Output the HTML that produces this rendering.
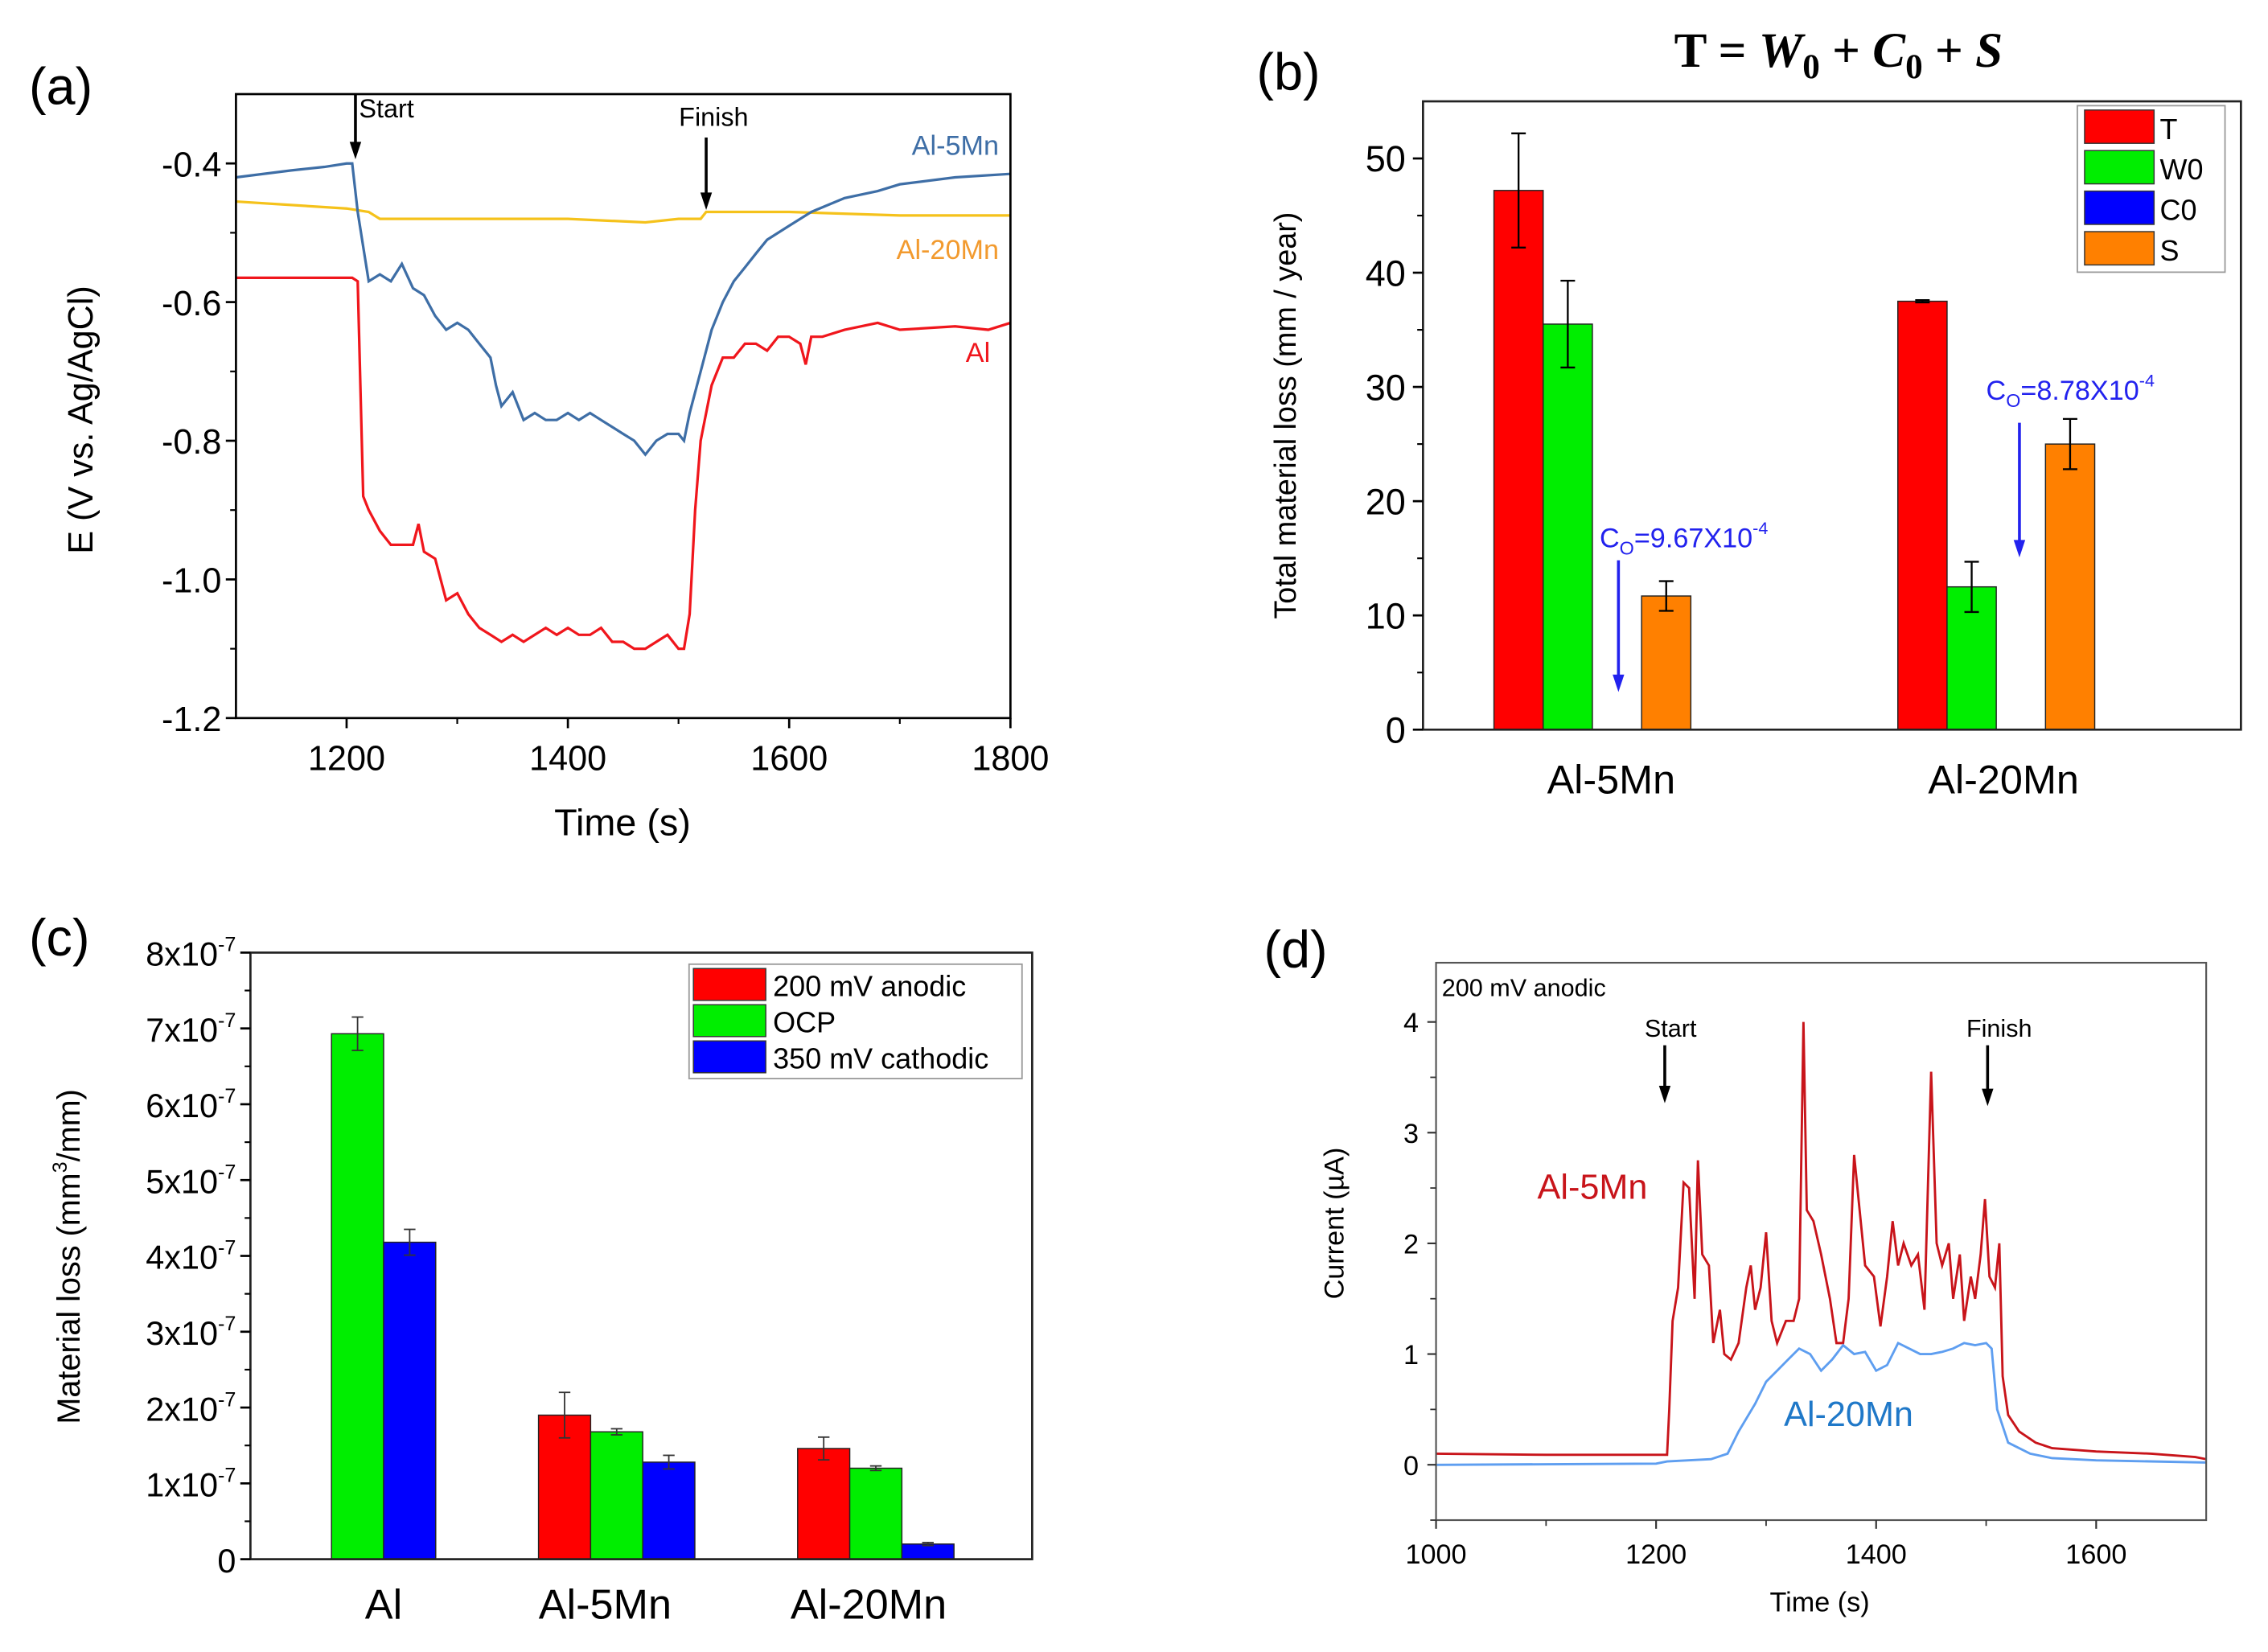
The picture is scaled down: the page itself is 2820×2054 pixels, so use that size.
<!DOCTYPE html>
<html><head><meta charset="utf-8">
<style>
html,body{margin:0;padding:0;background:#fff;}
svg{display:block;}
text{font-family:"Liberation Sans",sans-serif;}
</style></head>
<body>
<svg id="fig" width="2820" height="2054" viewBox="0 0 1566.7 1141.1" preserveAspectRatio="none" xmlns="http://www.w3.org/2000/svg"></svg>
<script>
// ---- Panel (a) data ----
const aAlT = [1100,1205,1210,1215,1220,1230,1240,1250,1260,1265,1270,1280,1290,1300,1310,1320,1330,1340,1350,1360,1370,1380,1390,1400,1410,1420,1430,1440,1450,1460,1470,1480,1490,1500,1505,1510,1515,1520,1530,1540,1550,1560,1570,1580,1590,1600,1610,1615,1620,1630,1650,1680,1700,1750,1780,1800];
const aAlV = [-0.565,-0.565,-0.57,-0.88,-0.90,-0.93,-0.95,-0.95,-0.95,-0.92,-0.96,-0.97,-1.03,-1.02,-1.05,-1.07,-1.08,-1.09,-1.08,-1.09,-1.08,-1.07,-1.08,-1.07,-1.08,-1.08,-1.07,-1.09,-1.09,-1.10,-1.10,-1.09,-1.08,-1.10,-1.10,-1.05,-0.90,-0.80,-0.72,-0.68,-0.68,-0.66,-0.66,-0.67,-0.65,-0.65,-0.66,-0.69,-0.65,-0.65,-0.64,-0.63,-0.64,-0.635,-0.64,-0.63];
const a5T = [1100,1150,1180,1200,1205,1210,1215,1220,1230,1240,1250,1260,1270,1280,1290,1300,1310,1320,1330,1335,1340,1350,1360,1370,1380,1390,1400,1410,1420,1430,1440,1450,1460,1470,1480,1490,1500,1505,1510,1520,1530,1540,1550,1560,1570,1580,1600,1620,1650,1680,1700,1750,1800];
const a5V = [-0.42,-0.41,-0.405,-0.40,-0.40,-0.47,-0.52,-0.57,-0.56,-0.57,-0.545,-0.58,-0.59,-0.62,-0.64,-0.63,-0.64,-0.66,-0.68,-0.72,-0.75,-0.73,-0.77,-0.76,-0.77,-0.77,-0.76,-0.77,-0.76,-0.77,-0.78,-0.79,-0.80,-0.82,-0.80,-0.79,-0.79,-0.80,-0.76,-0.70,-0.64,-0.60,-0.57,-0.55,-0.53,-0.51,-0.49,-0.47,-0.45,-0.44,-0.43,-0.42,-0.415];
const a20T = [1100,1200,1220,1230,1300,1400,1470,1500,1520,1525,1600,1700,1800];
const a20V = [-0.455,-0.465,-0.47,-0.48,-0.48,-0.48,-0.485,-0.48,-0.48,-0.47,-0.47,-0.475,-0.475];
const aXTicks = [1200,1400,1600,1800];
const aYTicks = [-0.4,-0.6,-0.8,-1.0,-1.2];
const aYLabels = ["-0.4","-0.6","-0.8","-1.0","-1.2"];

// ---- Panel (b) data ----
const bCats = ["Al-5Mn","Al-20Mn"];
const bSeries = ["T","W0","C0","S"];
const bT = [47.2,37.5];
const bW0 = [35.5,12.5];
const bC0 = [0,0];
const bS = [11.7,25.0];
const bTErr = [5.0,0.1];
const bW0Err = [3.8,2.2];
const bC0Err = [0,0];
const bSErr = [1.3,2.2];
const bYTicks = [0,10,20,30,40,50];

// ---- Panel (c) data ----
const cCats = ["Al","Al-5Mn","Al-20Mn"];
const cSeries = ["200 mV anodic","OCP","350 mV cathodic"];
const cAnodic = [0,1.90,1.46];
const cOCP = [6.93,1.68,1.20];
const cCath = [4.18,1.28,0.20];
const cAnodicErr = [0,0.30,0.15];
const cOCPErr = [0.22,0.04,0.03];
const cCathErr = [0.17,0.09,0.02];
const cYTicks = [0,1,2,3,4,5,6,7,8];

// ---- Panel (d) data ----
const d5T = [1000,1100,1210,1212,1215,1220,1225,1230,1235,1238,1242,1248,1252,1258,1262,1268,1275,1282,1286,1290,1295,1300,1305,1310,1318,1325,1330,1334,1337,1343,1350,1358,1364,1370,1375,1380,1385,1390,1398,1404,1410,1415,1420,1425,1432,1438,1444,1450,1455,1460,1466,1470,1476,1480,1486,1490,1495,1499,1503,1508,1512,1515,1520,1530,1545,1560,1600,1650,1690,1700];
const d5V = [0.1,0.09,0.09,0.5,1.3,1.6,2.55,2.5,1.5,2.75,1.9,1.8,1.1,1.4,1.0,0.95,1.1,1.6,1.8,1.4,1.6,2.1,1.3,1.1,1.3,1.3,1.5,4.0,2.3,2.2,1.9,1.5,1.1,1.1,1.5,2.8,2.3,1.8,1.7,1.25,1.7,2.2,1.8,2.0,1.8,1.9,1.4,3.55,2.0,1.8,2.0,1.5,1.9,1.3,1.7,1.5,1.9,2.4,1.7,1.6,2.0,0.8,0.45,0.3,0.2,0.15,0.12,0.1,0.07,0.05];
const d20T = [1000,1200,1210,1250,1265,1275,1290,1300,1310,1320,1330,1340,1350,1360,1370,1380,1390,1400,1410,1420,1430,1440,1450,1460,1470,1480,1490,1500,1505,1510,1520,1540,1560,1600,1700];
const d20V = [0.0,0.01,0.03,0.05,0.1,0.3,0.55,0.75,0.85,0.95,1.05,1.0,0.85,0.95,1.08,1.0,1.02,0.85,0.9,1.1,1.05,1.0,1.0,1.02,1.05,1.1,1.08,1.1,1.05,0.5,0.2,0.1,0.06,0.04,0.02];
const dXTicks = [1000,1200,1400,1600];
const dYTicks = [0,1,2,3,4];

const NS="http://www.w3.org/2000/svg";
const svg=document.getElementById('fig');
function el(tag,attrs,parent,txt){const e=document.createElementNS(NS,tag);for(const k in attrs)e.setAttribute(k,attrs[k]);if(txt!==undefined)e.textContent=txt;(parent||svg).appendChild(e);return e;}
function lin(d0,d1,r0,r1){return v=>r0+(v-d0)*(r1-r0)/(d1-d0);}
function arrow(g,x,y1,y2,color,w){
  el('line',{x1:x,y1:y1,x2:x,y2:y2-8,stroke:color,'stroke-width':w},g);
  el('polygon',{points:`${x-4},${y2-12} ${x+4},${y2-12} ${x},${y2}`,fill:color},g);
}

// ===== Panel (a) =====
(function(){
 const g=el('g',{});
 
 
 const L=163,R=698,T=65,B=496;
 const x=lin(1100,1800,L,R), y=lin(-1.2,-0.3,B,T);
 const lab=el('text',{x:20,y:72,'font-size':36},g,'(a)');
 
 function line(ts,vs,c,name){const p=el('polyline',{points:ts.map((t,i)=>x(t).toFixed(1)+','+y(vs[i]).toFixed(1)).join(' '),fill:'none',stroke:c,'stroke-width':1.8},g);
  }
 line(a20T,a20V,'#f5c21b','line-al-20mn');
 line(a5T,a5V,'#3e6ea6','line-al-5mn');
 line(aAlT,aAlV,'#f0161c','line-al');
 const fr=el('rect',{x:L,y:T,width:R-L,height:B-T,fill:'none',stroke:'#000','stroke-width':1.5},g);
 
 aXTicks.forEach(t=>{el('line',{x1:x(t),x2:x(t),y1:B,y2:B+7,stroke:'#000','stroke-width':1.5},g);
  const tx=el('text',{x:x(t),y:B+36,'font-size':24,'text-anchor':'middle'},g,t);
  });
 [1300,1500,1700].forEach(t=>el('line',{x1:x(t),x2:x(t),y1:B,y2:B+4,stroke:'#000','stroke-width':1.2},g));
 aYTicks.forEach((t,i)=>{el('line',{x1:L-7,x2:L,y1:y(t),y2:y(t),stroke:'#000','stroke-width':1.5},g);
  const tx=el('text',{x:L-10,y:y(t)+9,'font-size':24,'text-anchor':'end'},g,aYLabels[i]);
  });
 [-0.5,-0.7,-0.9,-1.1].forEach(t=>el('line',{x1:L-4,x2:L,y1:y(t),y2:y(t),stroke:'#000','stroke-width':1.2},g));
 const xt=el('text',{x:430,y:577,'font-size':26,'text-anchor':'middle'},g,'Time (s)');
 
 const yt=el('text',{x:0,y:0,'font-size':24,'text-anchor':'middle',transform:'translate(64,290) rotate(-90)'},g,'E (V vs. Ag/AgCl)');
 
 const s=el('text',{x:248,y:81,'font-size':18},g,'Start');
 arrow(g,x(1208),T,110,'#000',2);
 const f=el('text',{x:469,y:87,'font-size':18},g,'Finish');
 arrow(g,x(1525),95,145,'#000',2);
 const l1=el('text',{x:690,y:107,'font-size':19,'text-anchor':'end',fill:'#3e6ea6'},g,'Al-5Mn');
 const l2=el('text',{x:690,y:179,'font-size':19,'text-anchor':'end',fill:'#f29a2e'},g,'Al-20Mn');
 const l3=el('text',{x:684,y:250,'font-size':19,'text-anchor':'end',fill:'#f0161c'},g,'Al');
})();

// ===== Panel (b) =====
(function(){
 const g=el('g',{});
 
 
 const L=983,R=1548,T=70,B=504;
 const y=lin(0,55,B,T);
 const centers=[1100,1379], bw=34;
 const lab=el('text',{x:868,y:62,'font-size':36},g,'(b)');
 
 const tt=el('text',{x:1270,y:46,'font-size':34,'text-anchor':'middle',style:'font-family:"Liberation Serif",serif;font-weight:bold'},g);
 
 tt.innerHTML='T = <tspan font-style="italic">W</tspan><tspan font-size="24" dy="8">0</tspan><tspan dy="-8"> + </tspan><tspan font-style="italic">C</tspan><tspan font-size="24" dy="8">0</tspan><tspan dy="-8"> + </tspan><tspan font-style="italic">S</tspan>';
 const vals=[bT,bW0,bC0,bS], errs=[bTErr,bW0Err,bC0Err,bSErr], cols=['#ff0000','#00ee00','#0000ff','#ff8000'];
 vals.forEach((arr,si)=>arr.forEach((v,ci)=>{
  if(v<=0)return;
  const x0=centers[ci]+(si-2)*bw;
  const r=el('rect',{x:x0,y:y(v),width:bw,height:B-y(v),fill:cols[si],stroke:'#222','stroke-width':0.8},g);
  
  const e=errs[si][ci], cx=x0+bw/2;
  el('line',{x1:cx,x2:cx,y1:y(v+e),y2:y(v-e),stroke:'#000','stroke-width':1.3},g);
  el('line',{x1:cx-5,x2:cx+5,y1:y(v+e),y2:y(v+e),stroke:'#000','stroke-width':1.3},g);
  el('line',{x1:cx-5,x2:cx+5,y1:y(v-e),y2:y(v-e),stroke:'#000','stroke-width':1.3},g);
 }));
 const fr=el('rect',{x:L,y:T,width:R-L,height:B-T,fill:'none',stroke:'#222','stroke-width':1.5},g);
 
 bYTicks.forEach(t=>{el('line',{x1:L-7,x2:L,y1:y(t),y2:y(t),stroke:'#000','stroke-width':1.5},g);
  const tx=el('text',{x:L-12,y:y(t)+9,'font-size':25,'text-anchor':'end'},g,t);
  });
 [5,15,25,35,45].forEach(t=>el('line',{x1:L-4,x2:L,y1:y(t),y2:y(t),stroke:'#000','stroke-width':1.2},g));
 bCats.forEach((c,i)=>{const tx=el('text',{x:centers[i]+[13,5][i],y:548,'font-size':28,'text-anchor':'middle'},g,c);
  });
 const yt=el('text',{x:0,y:0,'font-size':21,'text-anchor':'middle',transform:'translate(895,287) rotate(-90)'},g,'Total material loss (mm / year)');
 
 const lg=el('g',{},g);
 el('rect',{x:1435,y:73,width:102,height:115,fill:'#fff',stroke:'#999','stroke-width':1},lg);
 bSeries.forEach((s,i)=>{
  el('rect',{x:1440,y:76+i*28,width:48,height:23,fill:cols[i],stroke:'#333','stroke-width':0.8},lg);
  const tx=el('text',{x:1492,y:96+i*28,'font-size':20},lg,s);
  });
 const a1=el('text',{x:1105,y:378,'font-size':19,fill:'#2222ee'},g);
 a1.innerHTML='C<tspan font-size="13" dy="5">O</tspan><tspan dy="-5">=9.67X10</tspan><tspan font-size="12" dy="-9">-4</tspan>';
 arrow(g,1118,387,478,'#2222ee',2);
 const a2=el('text',{x:1372,y:276,'font-size':19,fill:'#2222ee'},g);
 a2.innerHTML='C<tspan font-size="13" dy="5">O</tspan><tspan dy="-5">=8.78X10</tspan><tspan font-size="12" dy="-9">-4</tspan>';
 arrow(g,1395,292,385,'#2222ee',2);
})();

// ===== Panel (c) =====
(function(){
 const g=el('g',{});
 
 
 const L=173,R=713,T=658,B=1077;
 const y=lin(0,8,B,T);
 const centers=[247,426,605], bw=36;
 const lab=el('text',{x:20,y:660,'font-size':36},g,'(c)');
 
 const vals=[cAnodic,cOCP,cCath], errs=[cAnodicErr,cOCPErr,cCathErr], cols=['#ff0000','#00ee00','#0000ff'];
 vals.forEach((arr,si)=>arr.forEach((v,ci)=>{
  if(v<=0)return;
  const x0=centers[ci]+(si-1.5)*bw;
  const r=el('rect',{x:x0,y:y(v),width:bw,height:B-y(v),fill:cols[si],stroke:'#222','stroke-width':0.8},g);
  
  const e=errs[si][ci], cx=x0+bw/2;
  el('line',{x1:cx,x2:cx,y1:y(v+e),y2:y(v-e),stroke:'#333','stroke-width':1},g);
  el('line',{x1:cx-4,x2:cx+4,y1:y(v+e),y2:y(v+e),stroke:'#333','stroke-width':1},g);
  el('line',{x1:cx-4,x2:cx+4,y1:y(v-e),y2:y(v-e),stroke:'#333','stroke-width':1},g);
 }));
 const fr=el('rect',{x:L,y:T,width:R-L,height:B-T,fill:'none',stroke:'#222','stroke-width':1.5},g);
 
 cYTicks.forEach(t=>{el('line',{x1:L-7,x2:L,y1:y(t),y2:y(t),stroke:'#000','stroke-width':1.5},g);
  if(t<7.9) el('line',{x1:L-4,x2:L,y1:y(t+0.5),y2:y(t+0.5),stroke:'#000','stroke-width':1.2},g);
  const tx=el('text',{x:L-10,y:y(t)+9,'font-size':23,'text-anchor':'end'},g);
  
  if(t===0) tx.textContent='0'; else tx.innerHTML=t+'x10<tspan font-size="14" dy="-10">-7</tspan>';
 });
 cCats.forEach((c,i)=>{const tx=el('text',{x:centers[i]+[18,-8,-5][i],y:1118,'font-size':29,'text-anchor':'middle'},g,c);
  });
 const yt=el('text',{x:0,y:0,'font-size':22,'text-anchor':'middle',transform:'translate(55,868) rotate(-90)'},g);
 
 yt.innerHTML='Material loss (mm<tspan font-size="14" dy="-9">3</tspan><tspan dy="9">/mm)</tspan>';
 const lg=el('g',{},g);
 el('rect',{x:476,y:666,width:230,height:79,fill:'#fff',stroke:'#999','stroke-width':1},lg);
 cSeries.forEach((s,i)=>{
  el('rect',{x:479,y:669+i*25,width:50,height:22,fill:cols[i],stroke:'#333','stroke-width':0.8},lg);
  const tx=el('text',{x:534,y:688+i*25,'font-size':20},lg,s);
  });
})();

// ===== Panel (d) =====
(function(){
 const g=el('g',{});
 
 
 const L=992,R=1524,T=665,B=1050;
 const x=lin(1000,1700,L,R), y=lin(-0.5,4.535,B,T);
 const lab=el('text',{x:873,y:668,'font-size':36},g,'(d)');
 
 function line(ts,vs,c,name){const p=el('polyline',{points:ts.map((t,i)=>x(t).toFixed(1)+','+y(vs[i]).toFixed(1)).join(' '),fill:'none',stroke:c,'stroke-width':1.6},g);
  }
 line(d5T,d5V,'#c8141a','line-d-al-5mn');
 line(d20T,d20V,'#5e9ef0','line-d-al-20mn');
 const fr=el('rect',{x:L,y:T,width:R-L,height:B-T,fill:'none',stroke:'#555','stroke-width':1.2},g);
 
 dXTicks.forEach(t=>{el('line',{x1:x(t),x2:x(t),y1:B,y2:B+6,stroke:'#333','stroke-width':1.2},g);
  const tx=el('text',{x:x(t),y:B+30,'font-size':19,'text-anchor':'middle'},g,t);
  });
 [1100,1300,1500].forEach(t=>el('line',{x1:x(t),x2:x(t),y1:B,y2:B+4,stroke:'#333','stroke-width':1},g));
 dYTicks.forEach(t=>{el('line',{x1:L-6,x2:L,y1:y(t),y2:y(t),stroke:'#333','stroke-width':1.2},g);
  const tx=el('text',{x:L-12,y:y(t)+7,'font-size':19,'text-anchor':'end'},g,t);
  });
 [-0.5,0.5,1.5,2.5,3.5].forEach(t=>el('line',{x1:L-4,x2:L,y1:y(t),y2:y(t),stroke:'#333','stroke-width':1},g));
 const xt=el('text',{x:1257,y:1113,'font-size':19,'text-anchor':'middle'},g,'Time (s)');
 
 const yt=el('text',{x:0,y:0,'font-size':19,'text-anchor':'middle',transform:'translate(928,845) rotate(-90)'},g,'Current (µA)');
 
 const an=el('text',{x:996,y:688,'font-size':17},g,'200 mV anodic');
 const s=el('text',{x:1154,y:716,'font-size':17,'text-anchor':'middle'},g,'Start');
 arrow(g,1150,722,762,'#000',2);
 const f=el('text',{x:1381,y:716,'font-size':17,'text-anchor':'middle'},g,'Finish');
 arrow(g,1373,722,764,'#000',2);
 const l1=el('text',{x:1100,y:828,'font-size':24,'text-anchor':'middle',fill:'#c8141a'},g,'Al-5Mn');
 const l2=el('text',{x:1277,y:985,'font-size':24,'text-anchor':'middle',fill:'#1f78c8'},g,'Al-20Mn');
})();
</script>
</body></html>
